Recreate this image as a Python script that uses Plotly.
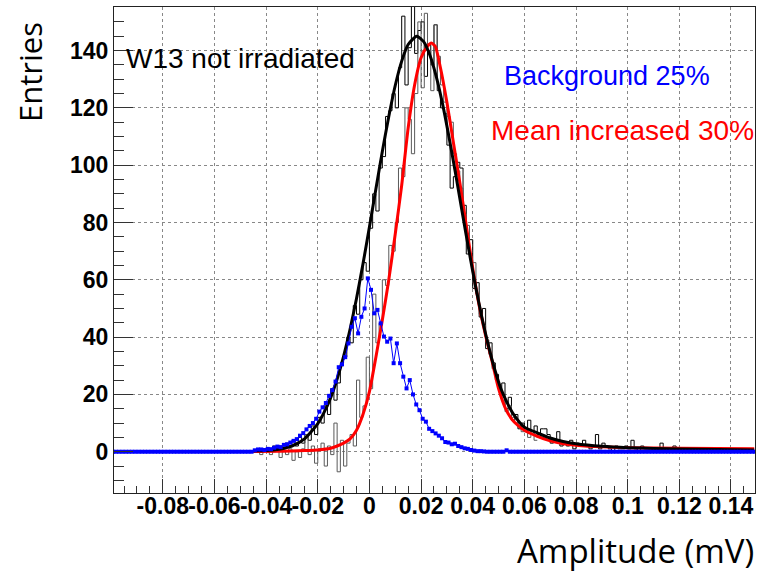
import plotly.graph_objects as go

# ---------------- data ----------------
BIN_WIDTH = 0.00125
HIST_START = -0.045          # lower edge of first data bin
GRID_START = -0.1            # lower edge of the 200-bin histogram axis

# black histogram (data)
H1 = [0, 1, 0, 1, 0, 1, 2, 1, 2, 1, 3, 2, 4, 2, 5, 3, 6, 4, 9, 6,
      12, 10, 16, 13, 22, 18, 24, 31, 33, 40, 38, 51, 48, 60, 66, 63, 78, 90, 84, 99,
      103, 117, 119, 125, 120, 134, 152, 128, 141, 158, 139, 147, 150, 131, 142, 135, 149, 126, 120, 118,
      107, 92, 96, 101, 99, 86, 69, 74, 57, 59, 47, 50, 36, 38, 31, 27, 21, 24, 15, 19,
      11, 13, 8, 10, 7, 11, 6, 9, 5, 8, 8, 6, 3, 4, 7, 2, 3, 2, 4, 1,
      3, 2, 4, 2, 1, 2, 6, 1, 3, 2, 1, 0, 2, 1, 1, 2, 1, 4, 1, 0,
      2, 1, 1, 1, 0, 1, 3, 1, 0, 0, 2, 0, 0, 1, 1, 0]

# dark-grey histogram (shifted data)
H2 = [0, 0, -1, 1, 0, -1, 0, 1, -2, 0, -1, 1, -3, 0, -2, 1, 6, -1, 2, -4,
      1, 3, -5, 2, -1, 10, -7, 4, -5, 3, 6, 2, 25, 12, 16, 33, 22, 55, 38, 45,
      60, 58, 72, 70, 80, 99, 96, 120, 116, 104, 125, 150, 127, 153, 140, 126, 149, 138, 128, 122,
      117, 115, 104, 98, 92, 83, 79, 67, 66, 55, 48, 44, 39, 34, 29, 25, 21, 18, 14, 16,
      12, 10, 9, 7, 8, 5, 6, 4]

# black fit curve
BLACK_X = [-0.045, -0.04, -0.035, -0.03, -0.025, -0.02, -0.0175, -0.015, -0.0125, -0.01,
           -0.0075, -0.005, -0.0025, 0.0, 0.0025, 0.005, 0.0075, 0.01, 0.0125, 0.015,
           0.0183, 0.021, 0.0235, 0.026, 0.0285, 0.031, 0.0335, 0.036, 0.0385, 0.041,
           0.0435, 0.046, 0.0485, 0.051, 0.0535, 0.056, 0.06, 0.065, 0.07, 0.075,
           0.08, 0.09, 0.1, 0.11, 0.12, 0.135, 0.149]
BLACK_Y = [0.3, 0.4, 0.9, 2.0, 4.6, 9.8, 13.8, 18.9, 25.4, 33.3,
           42.7, 53.5, 65.5, 78.4, 91.7, 104.8, 117.0, 127.8, 136.3, 142.1,
           145.0, 143.1, 138.2, 130.5, 120.6, 108.9, 96.3, 83.2, 70.4, 58.2,
           47.1, 37.3, 28.8, 21.8, 16.8, 12.8, 8.6, 6.6, 4.8, 3.6,
           2.8, 1.9, 1.4, 1.15, 0.95, 0.75, 0.6]

# red curve ("Mean increased 30%")
RED_X = [-0.045, -0.035, -0.025, -0.02, -0.015, -0.0125, -0.01, -0.0075, -0.005, -0.0025,
         0.0, 0.0025, 0.005, 0.0075, 0.01, 0.0125, 0.015, 0.0175, 0.02, 0.0225,
         0.024, 0.0255, 0.0275, 0.03, 0.0325, 0.035, 0.0375, 0.04, 0.0425, 0.045,
         0.0475, 0.05, 0.0525, 0.055, 0.0575, 0.06, 0.065, 0.07, 0.075, 0.08,
         0.09, 0.1, 0.12, 0.149]
RED_Y = [0.1, 0.2, 0.4, 0.6, 1.2, 2.0, 3.0, 4.5, 7.5, 13.0,
         21.0, 33.0, 46.0, 60.0, 76.0, 93.0, 113.0, 128.0, 137.5, 141.5,
         142.6, 141.5, 134.0, 122.0, 108.0, 94.0, 79.0, 64.0, 51.0, 40.5,
         31.5, 22.0, 15.5, 11.5, 9.2, 7.5, 5.4, 3.8, 2.8, 2.3,
         1.7, 1.4, 1.2, 1.0]

# blue background (25%), bins of the 200-bin axis
BLUE_PEAK = [0.5, 0.8, 0.8, 0.6, 1.0, 0.9, 1.4, 1.8, 1.6, 2.4,
             2.6, 3.2, 3.8, 4.4, 5.6, 6.5, 7.8, 9.0, 10.0, 11.5,
             14.0, 15.5, 17.0, 19.5, 21.5, 24.5, 29.5, 30.5, 33.0, 37.8,
             43.6, 46.6, 41.3, 47.1, 50.0, 60.5, 56.5, 48.3, 49.5, 44.8,
             40.2, 38.4, 39.5, 30.9, 37.8, 30.9, 26.2, 22.1, 25.0, 20.0,
             16.5, 14.5, 11.5, 10.5, 8.0, 7.2, 6.4, 5.6, 4.7, 3.4,
             3.2, 2.6, 2.8, 2.0, 1.6, 1.2, 1.0, 0.6, 0.4, 0.2,
             0.2, 0.1, 0.0, 0.0, 0.0, 0.0, 0.0, 0.0, 0.5, 0.0]
BLUE = [0.0] * 44 + BLUE_PEAK + [0.0] * (200 - 44 - len(BLUE_PEAK))

X_TICKS = [-0.08, -0.06, -0.04, -0.02, 0, 0.02, 0.04, 0.06, 0.08, 0.1, 0.12, 0.14]
X_TICK_TEXT = ["-0.08", "-0.06", "-0.04", "-0.02", "0", "0.02", "0.04", "0.06", "0.08", "0.1", "0.12", "0.14"]
Y_TICKS = [0, 20, 40, 60, 80, 100, 120, 140]

# ---------------- figure ----------------
W, H = 757, 572
L, R, T, B = 114, 2, 7, 79
PW, PH = W - L - R, H - T - B


def px(x):
    return (x - L) / PW


def py(y):
    return (H - B - y) / PH


def step_xy(vals, start):
    edges = [start + i * BIN_WIDTH for i in range(len(vals) + 1)]
    return edges, list(vals) + [vals[-1]]


fig = go.Figure()

x1, y1 = step_xy(H1, HIST_START)
fig.add_trace(go.Scatter(x=x1, y=y1, mode="lines", line=dict(color="black", width=1, shape="hv"),
                         showlegend=False, hoverinfo="skip"))
x2, y2 = step_xy(H2, HIST_START)
fig.add_trace(go.Scatter(x=x2, y=y2, mode="lines", line=dict(color="#5a5a5a", width=1, shape="hv"),
                         showlegend=False, hoverinfo="skip"))

fig.add_trace(go.Scatter(x=RED_X, y=RED_Y, mode="lines",
                         line=dict(color="#ff0000", width=3, shape="spline", smoothing=0.6),
                         showlegend=False))
fig.add_trace(go.Scatter(x=BLACK_X, y=BLACK_Y, mode="lines",
                         line=dict(color="black", width=3, shape="spline", smoothing=0.6),
                         showlegend=False))

blue_x = [GRID_START + (i + 0.5) * BIN_WIDTH for i in range(len(BLUE))]
fig.add_trace(go.Scatter(x=blue_x, y=BLUE, mode="lines+markers",
                         line=dict(color="#0000ff", width=1),
                         marker=dict(symbol="square", size=4, color="#0000ff"),
                         showlegend=False))

font_ticks = dict(family="Liberation Sans", size=23, color="black", weight="bold")

fig.update_xaxes(range=[-0.0989, 0.1493], tickvals=X_TICKS, ticktext=X_TICK_TEXT, tickangle=0,
                 ticks="inside", ticklen=14, tickwidth=1, tickcolor="#333",
                 minor=dict(ticks="inside", ticklen=7, dtick=0.005, tick0=0, tickcolor="#333", showgrid=False),
                 showgrid=True, gridcolor="#888", griddash="dot", gridwidth=1,
                 showline=True, linecolor="#222", linewidth=1, mirror=True,
                 zeroline=False, tickfont=font_ticks, ticklabelstandoff=-8)
fig.update_yaxes(range=[-14.4, 155.2], tickvals=Y_TICKS,
                 ticks="inside", ticklen=19, tickwidth=1, tickcolor="#333",
                 minor=dict(ticks="inside", ticklen=10, dtick=5, tick0=0, tickcolor="#333", showgrid=False),
                 showgrid=True, gridcolor="#888", griddash="dot", gridwidth=1,
                 showline=True, linecolor="#222", linewidth=1, mirror=True,
                 zeroline=False, tickfont=font_ticks, ticklabelstandoff=0)

annotations = [
    dict(text="W13 not irradiated", x=px(124), y=py(58), xanchor="left", yanchor="middle",
         font=dict(family="Liberation Sans", size=28, color="black")),
    dict(text="Background 25%", x=px(607), y=py(76), xanchor="center", yanchor="middle",
         font=dict(family="Liberation Sans", size=27, color="#0000ff")),
    dict(text="Mean increased 30%", x=px(756), y=py(130), xanchor="right", yanchor="middle",
         font=dict(family="Liberation Sans", size=28, color="#ff0000")),
    dict(text="Entries", x=px(30), y=py(72), xanchor="center", yanchor="middle", textangle=-90,
         font=dict(family="Open Sans", size=31, color="black")),
    dict(text="Amplitude (mV)", x=px(756), y=py(550), xanchor="right", yanchor="middle",
         font=dict(family="Open Sans", size=33, color="black")),
]
for a in annotations:
    a.update(xref="paper", yref="paper", showarrow=False)

fig.update_layout(width=W, height=H, margin=dict(l=L, r=R, t=T, b=B),
                  paper_bgcolor="white", plot_bgcolor="white",
                  annotations=annotations, showlegend=False)

fig.write_html("out.html")
